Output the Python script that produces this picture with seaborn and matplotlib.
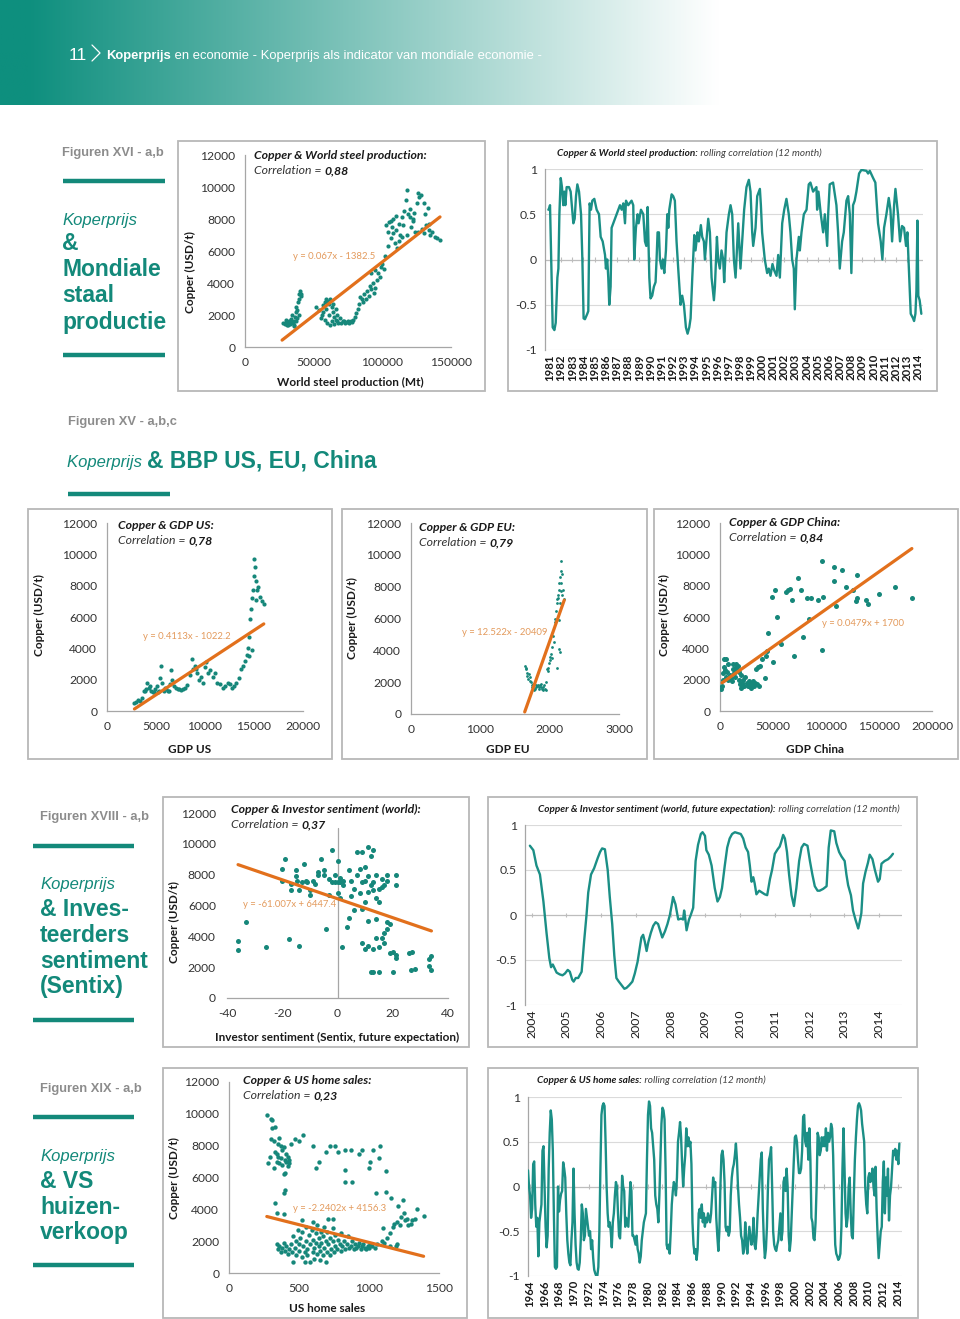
import numpy as np
import matplotlib
matplotlib.use("Agg")
import matplotlib.pyplot as plt
import seaborn as sns
from matplotlib.patches import Rectangle
from matplotlib.lines import Line2D

W, H = 960, 1319

TEAL = "#13897a"
DOT = "#16877a"
LINE = "#1b8f86"
ORANGE = "#e2701c"
ORANGE_TXT = "#e39a5c"
GRAY = "#8c8c8c"
BOX = "#b8b8b8"
AXIS = "#a6a6a6"
CHART_FONT = ["Lato", "DejaVu Sans"]
PAGE_FONT = ["Liberation Sans", "DejaVu Sans"]

# ---------------- data ----------------
# XVI-a: copper vs world steel production
steel_x = [28000, 29000, 30000, 31000, 32000, 33000, 34000, 35000, 36000, 29500, 31500, 33500, 35500, 34500,
           36500, 37000, 37500, 38000, 38500, 39000, 39500, 40000, 40500, 41000, 38000, 36000, 30500, 32500,
           37000, 39000,
           52000, 54000, 56000, 57000, 58000, 59000, 60000, 61000, 62000, 63000, 64000, 65000, 66000, 67000,
           68000, 69000, 70000, 71000, 60000, 58000, 62000, 64000, 55000, 57000, 61000, 66000, 63000, 59000,
           65000, 67000,
           72000, 73000, 74000, 75000, 76000, 77000, 78000, 79000, 80000, 81000,
           82000, 83000, 84000, 85000, 86000, 87000, 88000, 89000, 90000, 91000, 92000, 93000, 94000, 95000,
           96000, 97000, 98000, 99000, 100000, 101000, 92000, 95000,
           102000, 103000, 104000, 105000, 106000, 107000, 108000, 109000, 110000, 111000, 112000, 113000,
           114000, 115000, 116000, 117000, 118000, 119000, 120000, 121000, 122000, 123000, 124000, 125000,
           126000, 127000, 128000, 129000, 130000, 131000, 132000, 133000, 134000, 135000, 136000, 138000,
           140000, 142000, 106000, 110000, 112000, 114000, 118000, 122000, 126000, 130000, 134000, 104000,
           108000, 120000]
steel_cu = [1500, 1450, 1550, 1500, 1600, 1450, 1550, 1500, 1650, 1700, 1400, 1750, 1400, 2000,
            1900, 2200, 2500, 2300, 2800, 3000, 3300, 3500, 3200, 3300, 1800, 1300, 1350, 1650,
            1600, 2000,
            2500, 2300, 2000, 2600, 2800, 3000, 2900, 2700, 3000, 2500, 2200, 1900, 1700, 1600,
            1500, 1800, 1500, 1600, 1500, 1700, 1400, 2700, 1800, 2200, 2000, 2400, 1600, 2400,
            1450, 2000,
            1600, 1500, 1550, 1600, 1500, 1650, 1550, 1700, 1900, 2100,
            2400, 2700, 3100, 3000, 2800, 3300, 3000, 3500, 3200, 3800, 3600, 4000, 3400, 3700,
            4200, 4600, 4400, 5000, 5200, 4900, 4600, 4800,
            5700, 7600, 7200, 7800, 6800, 7500, 8000, 6500, 7300, 6200, 7700, 7000,
            8100, 7600, 8500, 9200, 9800, 8300, 8600, 7500, 8000, 8400, 7200, 9000,
            9600, 9400, 9500, 7400, 7100, 8300, 7600, 8700, 7300, 7000, 7200, 6900,
            6800, 6700, 7900, 8200, 6600, 6900, 7000, 7900, 7200, 9000, 7700, 6300,
            7100, 8100]
steel_trend_x = [27000, 142000]
steel_trend_y = [430, 8130]

# XVI-b: rolling correlation, copper vs steel
steel_roll_t = [1980.85, 1980.94, 1981.00, 1981.24, 1981.39, 1981.51, 1981.66, 1981.75, 1981.84, 1981.96,
                1982.07, 1982.19, 1982.28, 1982.37, 1982.49, 1982.70, 1982.85, 1983.09, 1983.21, 1983.33,
                1983.45, 1983.60, 1983.78, 1983.90, 1984.01, 1984.13, 1984.34, 1984.43, 1984.49, 1984.55,
                1984.67, 1984.79, 1984.97, 1985.18, 1985.39, 1985.54, 1985.72, 1985.93, 1986.01, 1986.13,
                1986.22, 1986.31, 1986.43, 1986.52, 1986.82, 1987.12, 1987.27, 1987.42, 1987.57, 1987.72,
                1987.81, 1988.01, 1988.31, 1988.46, 1988.55, 1988.70, 1988.85, 1988.94, 1989.15, 1989.36,
                1989.51, 1989.63, 1989.75, 1989.90, 1990.01, 1990.16, 1990.31, 1990.46, 1990.55, 1990.64,
                1990.76, 1990.85, 1991.00, 1991.12, 1991.24, 1991.39, 1991.51, 1991.60, 1991.69, 1991.90,
                1992.04, 1992.19, 1992.34, 1992.49, 1992.70, 1992.85, 1993.00, 1993.18, 1993.33, 1993.48,
                1993.60, 1993.75, 1993.93, 1994.04, 1994.22, 1994.34, 1994.52, 1994.64, 1994.79, 1994.88,
                1995.18, 1995.33, 1995.48, 1995.69, 1995.78, 1995.96, 1996.07, 1996.22, 1996.37, 1996.52,
                1996.61, 1996.82, 1997.03, 1997.18, 1997.33, 1997.48, 1997.63, 1997.87, 1998.07, 1998.22,
                1998.40, 1998.61, 1998.82, 1998.97, 1999.12, 1999.21, 1999.42, 1999.57, 1999.81, 1999.90,
                2000.01, 2000.25, 2000.46, 2000.61, 2000.76, 2000.94, 2001.09, 2001.30, 2001.45, 2001.60,
                2001.81, 2001.99, 2002.19, 2002.40, 2002.55, 2002.70, 2002.85, 2002.94, 2003.09, 2003.30,
                2003.39, 2003.54, 2003.75, 2003.99, 2004.19, 2004.34, 2004.58, 2004.88, 2004.94, 2005.06,
                2005.27, 2005.48, 2005.63, 2005.84, 2005.93, 2006.07, 2006.37, 2006.67, 2006.82, 2006.97,
                2007.18, 2007.33, 2007.57, 2007.72, 2007.87, 2008.01, 2008.16, 2008.31, 2008.46, 2008.70,
                2008.91, 2009.36, 2009.51, 2009.66, 2009.96, 2010.16, 2010.40, 2010.64, 2010.79, 2010.94,
                2011.15, 2011.36, 2011.51, 2011.66, 2011.84, 2011.96, 2012.19, 2012.37, 2012.55, 2012.73,
                2012.91, 2013.03, 2013.18, 2013.33, 2013.54, 2013.63, 2013.75, 2013.84, 2013.93, 2014.01,
                2014.13, 2014.28]
steel_roll_r = [0.55, 0.57, 0.60, -0.75, -0.78, -0.70, -0.20, -0.10, 0.50, 0.90,
                0.80, 0.60, 0.75, 0.60, 0.80, 0.80, 0.75, 0.40, 0.45, 0.70,
                0.83, 0.75, 0.50, 0.00, -0.65, -0.66, -0.60, -0.57, 0.00, 0.62,
                0.55, 0.65, 0.67, 0.55, 0.50, 0.25, 0.20, 0.05, -0.10, 0.00,
                -0.20, -0.50, -0.30, 0.35, 0.45, 0.55, 0.60, 0.55, 0.62, 0.40,
                0.65, 0.60, 0.65, 0.60, 0.00, 0.35, 0.50, 0.40, 0.55, 0.50,
                0.20, 0.15, 0.58, -0.20, -0.43, -0.40, -0.30, -0.25, 0.00, 0.30,
                0.30, 0.00, -0.10, 0.00, -0.15, 0.10, 0.50, 0.35, 0.55, 0.72,
                0.70, 0.65, 0.20, -0.10, -0.50, -0.40, -0.50, -0.75, -0.82, -0.75,
                -0.65, -0.20, 0.27, 0.10, 0.30, 0.20, 0.38, 0.25, 0.20, 0.00,
                0.45, 0.30, -0.20, -0.45, -0.30, 0.25, 0.00, -0.10, 0.10, 0.00,
                -0.25, 0.30, 0.50, 0.60, 0.50, 0.00, -0.20, 0.40, -0.10, 0.20,
                0.55, 0.80, 0.88, 0.75, 0.30, 0.15, 0.35, 0.70, 0.78, 0.60,
                0.30, 0.00, -0.15, -0.10, -0.18, -0.05, -0.12, -0.18, 0.05, -0.20,
                0.40, 0.55, 0.67, 0.50, 0.30, 0.00, -0.10, -0.55, 0.00, 0.25,
                0.10, 0.30, 0.50, 0.55, 0.83, 0.85, 0.75, 0.80, 0.55, 0.75,
                0.50, 0.30, 0.50, 0.15, 0.50, 0.83, 0.85, 0.60, 0.30, -0.10,
                0.20, 0.30, 0.65, 0.70, 0.50, -0.15, 0.60, 0.65, 0.75, 0.95,
                0.99, 0.98, 0.95, 0.98, 0.90, 0.85, 0.40, 0.20, 0.00, 0.35,
                0.50, 0.68, 0.55, 0.20, 0.60, 0.78, 0.50, 0.20, 0.37, 0.35,
                0.15, 0.30, -0.15, -0.60, -0.65, -0.68, -0.60, -0.35, 0.43, -0.40,
                -0.45, -0.60]
steel_years = list(range(1981, 2015))

# XV-a: copper vs GDP US
us_gdp = [2800, 3000, 3200, 3400, 3600, 3800, 4000, 4100, 4300, 4500, 4700, 4900, 5100, 5300, 5400, 5500,
          5600, 5800, 6000, 6200, 6400, 6500, 6600, 6800, 7000, 7200, 7500, 7800, 8000, 8200, 8500, 8700,
          8800, 9000, 9200, 9400, 9600, 9800, 10000, 10100, 10300, 10500, 10800, 11000, 11200, 11500, 11800,
          12000, 12300, 12600, 12800, 13000, 13200, 13500, 13700, 13900, 14100, 14300, 14400, 14500, 14600,
          14700, 14800, 14900, 15000, 15100, 15000, 15200, 15300, 15400, 15600, 15800, 16000, 15200, 14800,
          14500, 4400, 4800, 5900, 6300, 7300, 9100, 3900, 5200]
us_cu = [500, 600, 700, 650, 800, 1300, 1400, 1800, 1500, 1300, 1200, 1400, 1600, 1300, 2100, 2900,
         1800, 1300, 1400, 1300, 1700, 2600, 2000, 1600, 1500, 1400, 1350, 1400, 1500, 1650, 2300, 3300,
         2700, 2900, 2400, 2000, 2200, 1800, 2800, 3100, 2400, 2600, 2200, 2400, 1800, 1700, 1500,
         1600, 1800, 1700, 1500, 1600, 1800, 2100, 2700, 2900, 3200, 3600, 4000, 4700, 5900,
         6500, 7200, 7700, 8600, 9200, 9700, 8300, 7700, 7900, 7300, 7000, 6800, 7100, 3900,
         3500, 1600, 1200, 1500, 1300, 1400, 2700, 1300, 1200]
us_trend_x = [2800, 16000]
us_trend_y = [130, 5560]

# XV-b: copper vs GDP EU
eu_gdp = [1650, 1655, 1660, 1670, 1680, 1690, 1700, 1710, 1720, 1730, 1740, 1750, 1760, 1770, 1780, 1790,
          1800, 1810, 1820, 1830, 1840, 1850, 1860, 1870, 1880, 1890, 1900, 1910, 1920, 1930, 1940, 1950,
          1960, 1970, 1980, 1990, 2000, 2010, 2020, 2030, 2040, 2050, 2060, 2070, 2080, 2090, 2100, 2110,
          2120, 2130, 2140, 2150, 2160, 2170, 2180, 2190, 2200, 2150, 2120, 2160, 2180, 2140, 2150, 2130,
          2100, 2170]
eu_cu = [3000, 2900, 2800, 2600, 2400, 2200, 2500, 2300, 2100, 2000, 1800, 1700, 1900, 1600, 1500, 1600,
         1800, 1700, 1750, 1800, 1700, 1600, 1800, 1900, 1700, 1600, 1500, 1700, 1800, 1600, 1500, 2000,
         2800, 2900, 2700, 3200, 3400, 3600, 3800, 3500, 4200, 4900, 4500, 5800, 6000, 6500, 7000, 7200,
         7500, 7800, 8200, 8600, 9000, 9600, 8800, 7800, 7200, 7000, 7300, 7700, 7500, 5900, 3900, 4100,
         2900, 8200]
eu_trend_x = [1640, 2210]
eu_trend_y = [130, 7150]

# XV-c: copper vs GDP China
cn_gdp = [1000, 2000, 3000, 3000, 4000, 4000, 5000, 6000, 6000, 7000, 8000, 8000, 9000, 10000, 11000, 12000,
          12000, 13000, 14000, 15000, 15000, 16000, 17000, 18000, 18000, 19000, 20000, 20000, 21000, 22000,
          23000, 24000, 25000, 26000, 27000, 28000, 29000, 30000, 31000, 32000, 33000, 34000, 35000, 36000,
          37000, 38000, 40000, 42000, 43000, 44000, 45000, 49000, 50000, 52000, 54000, 58000, 62000, 64000,
          66000, 68000, 70000, 74000, 76000, 78000, 82000, 84000, 86000, 92000, 96000, 96000, 97000, 108000,
          108000, 109000, 115000, 119000, 125000, 128000, 129000, 129000, 138000, 140000, 150000, 165000,
          181000]
cn_cu = [1400, 1600, 2000, 2400, 2800, 3300, 2600, 2200, 3300, 2500, 2000, 3000, 2300, 2100, 1900, 2700,
         3000, 2400, 2200, 2800, 3000, 2600, 2900, 2000, 2500, 1700, 1500, 2300, 1800, 2000,
         1600, 2200, 1800, 1600, 1900, 1700, 1500, 1700, 1900, 1600, 1800, 2700, 1700, 2800,
         1600, 2900, 3300, 2100, 3500, 3800, 5000, 7300, 3100, 7700, 6000, 4300, 7600, 7700,
         7800, 7100, 3500, 8500, 7700, 4700, 7200, 5900, 7200, 7100, 9600, 3900, 7300, 8300,
         9200, 6700, 9000, 7900, 7700, 7000, 8700, 7200, 7100, 6800, 7500, 7900,
         7200]
cn_trend_x = [2000, 181000]
cn_trend_y = [1800, 10370]

# XVIII-a: copper vs investor sentiment (Sentix)
sx_x = [-36, -36, -33, -26, -20, -20, -19, -17.5, -17, -17, -15, -15, -14.5, -14, -14, -13, -12, -11.5, -11,
        -10, -10, -9, -8, -7, -7, -6, -5, -5, -4, -3, -3, -2, -2, -1, -1, 0, 0, 0, 1, 1, 1, 1.5, 2, 2, 3.5,
        4, 4, 5, 5, 6, 6, 7, 7, 8, 8, 9, 9, 9, 9, 10, 10, 10, 10, 11, 11, 11, 11, 11, 12, 12, 12, 13, 13,
        13, 13, 13, 14, 14, 14, 14, 15, 15, 15, 15, 16, 16, 16, 17, 17, 17, 18, 18, 18, 18, 19, 19, 20,
        20, 21, 21, 21, 21, 26, 26.5, 27, 28, 33, 33, 34, 34]
sx_cu = [3100, 3700, 4900, 3300, 7600, 8400, 9000, 3800, 7400, 7000, 7900, 8300, 7600, 7000, 3400, 7500,
         8700, 7600, 7500, 7000, 6700, 7600, 7400, 8200, 8000, 9000, 8300, 8000, 4500, 6700, 7700, 9600,
         7500, 7500, 8000, 7500, 8900, 6800, 7800, 7500, 6500, 3300, 7300, 7600, 4600, 5200, 8300, 6600,
         7600, 7100, 5700, 9500, 8000, 8400, 6800, 9500, 7500, 5800, 3600, 8500, 7600, 6200, 3200, 9800,
         7900, 6900, 5000, 3400, 9200, 7300, 1700, 9600, 7500, 7000, 3200, 1700, 8000, 6500, 3900, 5100,
         6200, 7100, 1700, 3300, 7700, 7200, 3900, 7300, 4200, 3600, 4500, 4900, 7600, 8000, 2900, 4800,
         3000, 1700, 7300, 2800, 8000, 2600, 2900, 1800, 3000, 1900, 2500, 2100, 2700, 1800]
sx_trend_x = [-36, 34]
sx_trend_y = [8650, 4350]

# XVIII-b: rolling correlation, copper vs Sentix
sx_roll_t = [2003.95, 2004.05, 2004.14, 2004.24, 2004.34, 2004.43, 2004.51, 2004.56, 2004.61, 2004.67,
             2004.72, 2004.81, 2004.89, 2004.96, 2005.04, 2005.10, 2005.17, 2005.21, 2005.27, 2005.34,
             2005.44, 2005.51, 2005.58, 2005.63, 2005.71, 2005.80, 2005.90, 2005.97, 2006.03, 2006.11,
             2006.19, 2006.25, 2006.32, 2006.38, 2006.44, 2006.51, 2006.59, 2006.67, 2006.73, 2006.81,
             2006.90, 2006.97, 2007.05, 2007.12, 2007.16, 2007.21, 2007.26, 2007.31, 2007.36, 2007.43,
             2007.50, 2007.57, 2007.64, 2007.72, 2007.76, 2007.84, 2007.91, 2007.98, 2008.05, 2008.07,
             2008.14, 2008.22, 2008.30, 2008.36, 2008.39, 2008.41, 2008.46, 2008.53, 2008.58, 2008.65,
             2008.72, 2008.79, 2008.87, 2008.92, 2008.99, 2009.03, 2009.10, 2009.18, 2009.27, 2009.35,
             2009.42, 2009.48, 2009.56, 2009.63, 2009.70, 2009.77, 2009.85, 2009.94, 2010.02, 2010.09,
             2010.16, 2010.23, 2010.28, 2010.33, 2010.38, 2010.42, 2010.47, 2010.55, 2010.63, 2010.71,
             2010.78, 2010.86, 2010.92, 2011.00, 2011.08, 2011.14, 2011.19, 2011.24, 2011.29, 2011.35,
             2011.41, 2011.48, 2011.55, 2011.62, 2011.70, 2011.77, 2011.84, 2011.94, 2012.01, 2012.08,
             2012.15, 2012.23, 2012.29, 2012.39, 2012.49, 2012.55, 2012.61, 2012.71, 2012.77, 2012.85,
             2012.92, 2013.01, 2013.06, 2013.11, 2013.19, 2013.25, 2013.32, 2013.40, 2013.44, 2013.49,
             2013.54, 2013.61, 2013.68, 2013.73, 2013.81, 2013.88, 2013.95, 2013.97, 2014.02, 2014.07,
             2014.16, 2014.26, 2014.34, 2014.40]
sx_roll_r = [0.77, 0.72, 0.55, 0.45, 0.15, -0.20, -0.48, -0.58, -0.55, -0.60,
             -0.64, -0.66, -0.67, -0.65, -0.61, -0.63, -0.72, -0.74, -0.70, -0.70,
             -0.63, -0.30, 0.00, 0.25, 0.45, 0.52, 0.63, 0.70, 0.74, 0.73,
             0.50, 0.20, -0.10, -0.45, -0.70, -0.74, -0.78, -0.82, -0.81, -0.78,
             -0.74, -0.65, -0.52, -0.35, -0.25, -0.22, -0.30, -0.40, -0.30, -0.20,
             -0.12, -0.08, -0.10, -0.20, -0.25, -0.18, -0.10, 0.00, 0.15, 0.20,
             0.12, -0.05, -0.04, -0.05, 0.05, 0.00, -0.17, -0.05, 0.00, 0.08,
             0.60, 0.78, 0.90, 0.92, 0.88, 0.72, 0.67, 0.55, 0.30, 0.15,
             0.20, 0.30, 0.55, 0.75, 0.85, 0.90, 0.92, 0.91, 0.90, 0.85,
             0.75, 0.70, 0.55, 0.37, 0.42, 0.35, 0.23, 0.27, 0.25, 0.23,
             0.22, 0.40, 0.50, 0.68, 0.73, 0.76, 0.82, 0.89, 0.85, 0.70,
             0.45, 0.22, 0.10, 0.30, 0.60, 0.75, 0.79, 0.77, 0.60, 0.45,
             0.32, 0.27, 0.27, 0.29, 0.32, 0.75, 0.94, 0.93, 0.80, 0.70,
             0.65, 0.60, 0.45, 0.33, 0.22, 0.05, -0.05, -0.15, -0.08, 0.02,
             0.35, 0.48, 0.58, 0.67, 0.62, 0.50, 0.40, 0.37, 0.40, 0.57,
             0.60, 0.62, 0.65, 0.68]
sx_years = list(range(2004, 2015))

# XIX-a: copper vs US home sales
hs_x = [270, 280, 290, 300, 300, 310, 310, 320, 320, 330, 330, 340, 340, 350, 350, 360, 360, 370, 370, 380,
        380, 390, 390, 400, 400, 410, 410, 420, 430, 440, 430, 420,
        470, 500, 530, 600, 620, 640, 690, 720, 760, 780, 830, 830, 830, 870, 880, 930, 950, 1000, 1010,
        1030, 1050, 1070, 1080, 1120, 1120,
        330, 340, 390, 400, 390,
        340, 350, 360, 370, 380, 390, 400, 410, 420, 430, 440, 450, 460, 460, 470, 480, 480, 490, 500, 500,
        510, 520, 520, 530, 540, 540, 550, 550, 560, 560, 570, 580, 580, 590, 600, 600, 610, 610, 620, 620,
        630, 630, 640, 640, 650, 650, 660, 660, 670, 670, 680, 680, 690, 690, 700, 700, 710, 710, 720, 720,
        730, 740, 740, 750, 760, 760, 770, 780, 790, 800, 800, 810, 820, 830, 840, 850, 860, 870, 880, 890,
        900, 910, 920, 930, 940, 950, 960, 970, 980, 990, 1000, 1010, 1020, 1040, 1060, 520, 600, 740,
        1090, 1100, 1110, 1130, 1150, 1160, 1170, 1180, 1190, 1200, 1210, 1220, 1230, 1240, 1250, 1260,
        1270, 1280, 1300, 1310, 1330, 1340, 1390, 1200, 1150]
hs_cu = [9900, 6900, 7300, 8400, 9700, 9600, 9100, 8300, 6600, 7600, 9200, 7500, 7000, 8100, 7300, 8500,
         6900, 8000, 7200, 7700, 6800, 6200, 7900, 7100, 6300, 7000, 7500, 7300, 7100, 8100, 6900, 6700,
         8400, 8300, 8700, 8000, 6600, 7000, 7600, 8000, 8000, 7600, 7700, 6500, 5700, 7700, 5700, 7500,
         7700, 6600, 7000, 7700, 5000, 7200, 8000, 6400, 5100,
         4400, 3800, 5000, 5200, 3700,
         1800, 1500, 1700, 1300, 1600, 1900, 1400, 1700, 1200, 1500, 1800, 1300, 700, 2300, 1600, 2000,
         1100, 2700, 1800, 1400, 2200, 1000, 2600, 1700, 1300, 700, 2000, 2900, 1500, 1100, 2400, 1800,
         700, 2700, 1300, 2100, 1600, 900, 2500, 1900, 1200, 3000, 1700, 2200, 1400, 800, 2600, 1900,
         1100, 2300, 1600, 2900, 700, 2000, 1300, 2600, 1800, 3400, 1100, 2200, 1500, 2000, 2800, 1300,
         1700, 2400, 1500, 2100, 1800, 1400, 2500, 1700, 2000, 1500, 1800, 2300, 1600, 1700, 2000, 1500,
         1800, 1600, 1700, 1900, 1500, 1700, 1800, 1600, 1500, 1700, 1600, 1800, 1700, 1600, 1800, 3300,
         3200, 3400,
         2000, 2800, 1900, 2200, 2500, 4700, 2900, 3100, 1700, 3200, 4200, 3000, 3500, 4600, 3800, 3300,
         3400, 3000, 3100, 3300, 3400, 4000, 3600, 1800, 1700]
hs_trend_x = [270, 1390]
hs_trend_y = [3550, 1050]

# XIX-b: rolling correlation, copper vs US home sales (evenly spaced samples, late 1963 - early 2014)
hs_roll_r = [0.18, 0.0, -0.1, -0.35, -0.25, 0.25, 0.28, -0.2, -0.45, -0.35, -0.78, -0.4, -0.3, -0.2, 0.4, 0.45,
             0.0, -0.45, -0.68, -0.55, 0.2, 0.6, 0.85, 0.75, 0.4, -0.3, -0.9, -0.92, -0.9, 0.0, -0.28, -0.15,
             -0.08, -0.05, 0.27, 0.2, 0.1, -0.3, -0.6, -0.75, -0.85, -0.88, -0.6, -0.4, 0.2, -0.3, -0.65, -0.85,
             -0.92, -0.93, -0.85, -0.6, -0.2, -0.3, -0.6, -0.55, -0.25, -0.35, -0.45, -0.55, -0.5, -0.7, -0.6,
             -0.8, -0.93, -0.97, -1.0, -1.0, -0.9, -0.5, 0.2, 0.8, 0.9, 0.93, 0.9, 0.5, 0.0, -0.3, -0.45, -0.4,
             -0.5, -0.68, -0.4, -0.3, -0.1, 0.05, 0.0, -0.3, -0.55, -0.58, -0.3, 0.12, 0.0, -0.05, -0.45, -0.35,
             -0.4, -0.45, -0.2, 0.05, -0.05, -0.55, -0.55, -0.6, -0.65, -0.55, -0.7, -0.75, -0.85, -0.78, -0.6,
             -0.5, -0.4, -0.35, -0.3, 0.3, 0.8, 0.95, 0.9, 0.65, 0.6, 0.45, 0.3, -0.1, -0.2, -0.25, -0.4, -0.1,
             0.3, 0.7, 0.88, 0.85, 0.75, 0.2, -0.65, -0.7, -0.65, -0.75, -0.5, -0.2, -0.05, 0.05, 0.0, -0.1,
             0.1, 0.5, 0.6, 0.72, 0.55, 0.25, 0.0, 0.2, 0.35, 0.65, 0.45, 0.55, 0.45, 0.5, 0.25, -0.4, -0.65,
             -0.75, -0.7, -0.82, -0.7, -0.3, -0.25, -0.35, -0.2, -0.4, -0.3, -0.45, -0.35, -0.4, -0.3, -0.35,
             -0.4, -0.3, -0.1, 0.1, 0.0, 0.05, -0.35, -0.55, -0.72, -0.5, 0.0, 0.35, 0.4, 0.3, 0.05, -0.45,
             -0.5, -0.45, -0.55, -0.5, -0.1, 0.1, 0.2, 0.25, 0.35, 0.48, 0.3, 0.0, -0.2, -0.35, -0.55, -0.6,
             -0.75, -0.7, -0.4, -0.6, -0.75, -0.6, -0.45, -0.55, -0.65, -0.6, -0.35, -0.65, -0.7, -0.55, -0.3,
             -0.1, 0.1, 0.3, 0.38, -0.25, -0.6, -0.8, -0.7, -0.45, 0.0, 0.3, 0.35, 0.44, 0.0, -0.5, -0.65,
             -0.7, -0.72, -0.65, -0.6, -0.45, -0.3, -0.6, -0.5, 0.05, 0.1, -0.05, 0.2, 0.0, -0.55, -0.72, -0.6,
             -0.3, 0.0, 0.3, 0.55, 0.57, 0.5, 0.3, 0.15, 0.15, 0.2, 0.4, 0.78, 0.8, 0.5, 0.45, 0.6, 0.3, 0.65,
             0.3, -0.35, -0.4, -0.58, -0.6, -0.4, 0.0, 0.6, 0.55, 0.35, 0.4, 0.55, 0.45, 0.55, 0.45, 0.65, 0.4,
             0.6, 0.5, 0.55, 0.7, 0.65, 0.35, -0.2, -0.65, -0.75, -0.78, -0.82, -0.8, -0.75, -0.45, 0.2, 0.65,
             0.2, -0.3, -0.45, -0.35, 0.0, 0.1, -0.3, -0.55, -0.58, -0.1, 0.3, 0.55, 0.75, 0.9, 0.93, 0.9,
             0.85, 0.7, 0.6, 0.5, 0.0, -0.2, -0.3, 0.1, 0.15, 0.05, 0.1, 0.2, 0.0, -0.1, 0.22, -0.25, -0.55,
             -0.8, -0.65, -0.5, -0.45, 0.05, 0.28, -0.3, 0.1, -0.1, 0.2, -0.38, -0.1, 0.0, 0.2, 0.4, 0.35,
             0.42, 0.3, 0.4, 0.25, 0.48]
hs_roll_span = (1963.77, 2014.18)
hs_years = list(range(1964, 2015, 2))


# ---------------- helpers ----------------
def add_ax(fig, x0, y0, x1, y1):
    ax = fig.add_axes([x0 / W, 1 - y1 / H, (x1 - x0) / W, (y1 - y0) / H])
    ax.set_facecolor("none")
    return ax


def frame(fig, x0, y0, x1, y1):
    fig.patches.append(Rectangle((x0 / W, 1 - y1 / H), (x1 - x0) / W, (y1 - y0) / H,
                                 transform=fig.transFigure, fill=False, ec=BOX, lw=1.3))


def hline(fig, x0, x1, y, lw=3.2):
    fig.lines.append(Line2D([x0 / W, x1 / W], [1 - y / H, 1 - y / H], transform=fig.transFigure,
                            color=TEAL, lw=lw, solid_capstyle="butt"))


def txt(fig, x, y, s, **kw):
    kw.setdefault("va", "center")
    kw.setdefault("ha", "left")
    return fig.text(x / W, 1 - y / H, s, **kw)


def runs(fig, x, y, pieces, family):
    # consecutive text pieces on one baseline
    r = fig.canvas.get_renderer()
    for s, kw in pieces:
        t = fig.text(x / W, 1 - y / H, s, ha="left", va="baseline", family=family, **kw)
        x += t.get_window_extent(renderer=r).width


def scatter_panel(ax, x, y, tx, ty, xticks, s):
    sns.scatterplot(x=x, y=y, ax=ax, color=DOT, s=s, linewidth=0, legend=False, zorder=3)
    sns.lineplot(x=tx, y=ty, ax=ax, color=ORANGE, lw=2.3, zorder=4)
    ax.set_xlim(xticks[0], xticks[-1])
    ax.set_ylim(0, 12000)
    ax.set_xticks(xticks)
    ax.set_xticklabels([str(v) for v in xticks])
    ax.set_yticks(range(0, 12001, 2000))
    for sp in ["top", "right"]:
        ax.spines[sp].set_visible(False)
    for sp in ["left", "bottom"]:
        ax.spines[sp].set_color(AXIS)
        ax.spines[sp].set_linewidth(0.9)
    ax.tick_params(colors=AXIS, labelcolor="#333333", labelsize=8.7, length=3, width=0.9, pad=4)
    for lab in ax.get_xticklabels() + ax.get_yticklabels():
        lab.set_family(CHART_FONT)
    ax.set_xlabel("")
    ax.set_ylabel("")


def roll_panel(ax, t, r, xlim, years, size, weight):
    sns.lineplot(x=t, y=r, ax=ax, color=LINE, lw=1.7, zorder=3)
    ax.set_xlim(*xlim)
    ax.set_ylim(-1, 1)
    ax.set_yticks([-1, -0.5, 0, 0.5, 1])
    ax.set_yticklabels(["-1", "-0.5", "0", "0.5", "1"])
    for v in [1, 0.5, -0.5, -1]:
        ax.axhline(v, color="#dadada", lw=0.8, zorder=0)
    ax.axhline(0, color="#bdbdbd", lw=0.9, zorder=1)
    ax.vlines(years, -0.025, 0.025, color="#bdbdbd", lw=0.8, zorder=1)
    ax.set_xticks(years)
    ax.set_xticklabels([str(v) for v in years], rotation=90)
    for sp in ["top", "right", "bottom"]:
        ax.spines[sp].set_visible(False)
    ax.spines["left"].set_color(AXIS)
    ax.spines["left"].set_linewidth(0.9)
    ax.tick_params(axis="y", length=0, labelsize=8.8, labelcolor="#333333", pad=6)
    ax.tick_params(axis="x", length=0, labelsize=size, labelcolor="#1a1a1a", pad=3)
    for lab in ax.get_xticklabels():
        lab.set_family(CHART_FONT)
        lab.set_fontweight(weight)
    for lab in ax.get_yticklabels():
        lab.set_family(CHART_FONT)
    ax.set_xlabel("")
    ax.set_ylabel("")


def main():
    sns.set_theme(style="white")
    plt.rcParams["font.family"] = CHART_FONT
    fig = plt.figure(figsize=(W / 100, H / 100), dpi=100)
    fig.patch.set_facecolor("white")

    # header band
    hax = fig.add_axes([0, 1 - 105 / H, 1, 105 / H])
    grad = np.clip(np.linspace(-0.04, 1.35, 400), 0, 1)
    teal = np.array([14, 143, 126]) / 255.0
    band = (1 - grad)[:, None] * teal + grad[:, None] * np.ones(3)
    hax.imshow(band[None, :, :], aspect="auto", extent=[0, 1, 0, 1])
    hax.axis("off")
    txt(fig, 69, 55, "11", color="white", fontsize=12.5, family=PAGE_FONT)
    fig.lines.append(Line2D([92 / W, 100 / W, 92 / W], [1 - 45 / H, 1 - 53 / H, 1 - 61 / H],
                            transform=fig.transFigure, color="white", lw=0.9))
    runs(fig, 106, 59, [("Koperprijs", dict(color="white", fontsize=9.4, fontweight="bold")),
                        (" en economie - Koperprijs als indicator van mondiale economie -",
                         dict(color="white", fontsize=9.4))],
         ["Liberation Sans Narrow", "Liberation Sans", "DejaVu Sans"])

    # side labels
    def side(x, y_fig, y_line1, lines, y_first, y_line2, lx0, lx1):
        txt(fig, x, y_fig[1], y_fig[0], color=GRAY, fontsize=9.3, fontweight="bold", family=PAGE_FONT)
        hline(fig, lx0, lx1, y_line1)
        txt(fig, x, y_first, "Koperprijs", color=TEAL, fontsize=12, style="italic", family=PAGE_FONT)
        for i, s in enumerate(lines):
            txt(fig, x, y_first + 24 + 26 * i, s, color=TEAL, fontsize=16.5, fontweight="bold",
                family=PAGE_FONT)
        hline(fig, lx0, lx1, y_line2)

    side(62, ("Figuren XVI - a,b", 153), 181, ["&", "Mondiale", "staal", "productie"], 220, 355, 63, 165)
    txt(fig, 68, 422, "Figuren XV - a,b,c", color=GRAY, fontsize=9.3, fontweight="bold", family=PAGE_FONT)
    runs(fig, 67, 467, [("Koperprijs ", dict(color=TEAL, fontsize=12, style="italic")),
                        ("& BBP US, EU, China", dict(color=TEAL, fontsize=16.5, fontweight="bold"))], PAGE_FONT)
    hline(fig, 68, 170, 494)
    side(40, ("Figuren XVIII - a,b", 817), 846, ["& Inves-", "teerders", "sentiment", "(Sentix)"], 885, 1020,
         33, 134)
    side(40, ("Figuren XIX - a,b", 1089), 1117, ["& VS", "huizen-", "verkoop"], 1157, 1265, 33, 134)

    # frames
    for b in [(178, 141, 485, 391), (508, 141, 937, 391), (28, 509, 332, 759), (342, 509, 647, 759),
              (654, 509, 958, 759), (163, 797, 469, 1047), (488, 797, 917, 1047), (163, 1068, 467, 1318),
              (488, 1068, 918, 1318)]:
        frame(fig, *b)

    bi = dict(fontsize=8.8, fontweight="bold", style="italic", color="#1a1a1a")
    it = dict(fontsize=8.8, style="italic", color="#333333")
    eq_kw = dict(color=ORANGE_TXT, fontsize=6.8, va="center", ha="left", family=CHART_FONT)
    lab_kw = dict(fontsize=8.5, fontweight="bold", color="#1a1a1a", family=CHART_FONT)

    def scatter_text(tx, ty, title, corr, xlab, xlab_xy, ylab_xy):
        runs(fig, tx, ty, [(title, bi)], CHART_FONT)
        runs(fig, tx, ty + 15, [("Correlation = ", it), (corr, bi)], CHART_FONT)
        txt(fig, xlab_xy[0], xlab_xy[1], xlab, ha="center", **lab_kw)
        txt(fig, ylab_xy[0], ylab_xy[1], "Copper (USD/t)", ha="center", rotation=90, **lab_kw)

    # XVI-a
    ax = add_ax(fig, 245, 155, 451, 347)
    scatter_panel(ax, steel_x, steel_cu, steel_trend_x, steel_trend_y, [0, 50000, 100000, 150000], 9)
    ax.text(35000, 5650, "y = 0.067x - 1382.5", **eq_kw)
    scatter_text(254, 159, "Copper & World steel production:", "0,88", "World steel production (Mt)",
                 (350, 382), (190, 272))

    # XVI-b
    ax = add_ax(fig, 545, 169, 923, 350)
    roll_panel(ax, steel_roll_t, steel_roll_r, (1980.55, 2014.43), steel_years, 8.2, "bold")
    sm_bi = dict(fontsize=7.2, fontweight="bold", style="italic", color="#1a1a1a")
    sm_it = dict(fontsize=7.2, style="italic", color="#404040")
    runs(fig, 557, 156, [("Copper & World steel production:", sm_bi),
                         (" rolling correlation (12 month)", sm_it)], CHART_FONT)

    # XV-a
    ax = add_ax(fig, 107, 523, 303, 711)
    scatter_panel(ax, us_gdp, us_cu, us_trend_x, us_trend_y, [0, 5000, 10000, 15000, 20000], 9)
    ax.text(3700, 4750, "y = 0.4113x - 1022.2", **eq_kw)
    scatter_text(118, 529, "Copper & GDP US:", "0,78", "GDP US", (190, 750), (39, 615))

    # XV-b
    ax = add_ax(fig, 411, 523, 619, 714)
    scatter_panel(ax, eu_gdp, eu_cu, eu_trend_x, eu_trend_y, [0, 1000, 2000, 3000], 4)
    ax.text(730, 5090, "y = 12.522x - 20409", **eq_kw)
    scatter_text(419, 531, "Copper & GDP EU:", "0,79", "GDP EU", (508, 750), (352, 618))

    # XV-c
    ax = add_ax(fig, 720, 523, 932, 711)
    scatter_panel(ax, cn_gdp, cn_cu, cn_trend_x, cn_trend_y, [0, 50000, 100000, 150000, 200000], 13)
    ax.text(96000, 5560, "y = 0.0479x + 1700", **eq_kw)
    scatter_text(729, 526, "Copper & GDP China:", "0,84", "GDP China", (815, 750), (664, 615))

    # XVIII-a
    ax = add_ax(fig, 227, 813, 448, 998)
    scatter_panel(ax, sx_x, sx_cu, sx_trend_x, sx_trend_y, [-40, -20, 0, 20, 40], 13)
    ax.spines["left"].set_visible(False)
    ax.tick_params(axis="y", length=0, pad=8)
    ax.axvline(0, ymax=0.92, color=AXIS, lw=0.9, zorder=1)
    ax.text(-34.3, 6050, "y = -61.007x + 6447.4", **eq_kw)
    scatter_text(231, 813, "Copper & Investor sentiment (world):", "0,37",
                 "Investor sentiment (Sentix, future expectation)", (337, 1037), (174, 922))

    # XVIII-b
    ax = add_ax(fig, 525, 825, 902, 1005)
    roll_panel(ax, sx_roll_t, sx_roll_r, (2003.81, 2014.66), sx_years, 8.8, "normal")
    runs(fig, 538, 812, [("Copper & Investor sentiment (world, future expectation):", sm_bi),
                         (" rolling correlation (12 month)", sm_it)], CHART_FONT)

    # XIX-a
    ax = add_ax(fig, 229, 1082, 439, 1273)
    scatter_panel(ax, hs_x, hs_cu, hs_trend_x, hs_trend_y, [0, 500, 1000, 1500], 10)
    ax.text(457, 4080, "y = -2.2402x + 4156.3", **eq_kw)
    scatter_text(243, 1084, "Copper & US home sales:", "0,23", "US home sales", (327, 1309), (174, 1178))

    # XIX-b
    ax = add_ax(fig, 528, 1097, 902, 1276)
    hs_t = np.linspace(hs_roll_span[0], hs_roll_span[1], len(hs_roll_r))
    roll_panel(ax, hs_t, hs_roll_r, (1963.77, 2014.54), hs_years, 8.2, "bold")
    runs(fig, 537, 1083, [("Copper & US home sales:", sm_bi),
                          (" rolling correlation (12 month)", sm_it)], CHART_FONT)

    fig.savefig("out.png", dpi=100, facecolor="white")
    plt.close(fig)


if __name__ == "__main__":
    main()
